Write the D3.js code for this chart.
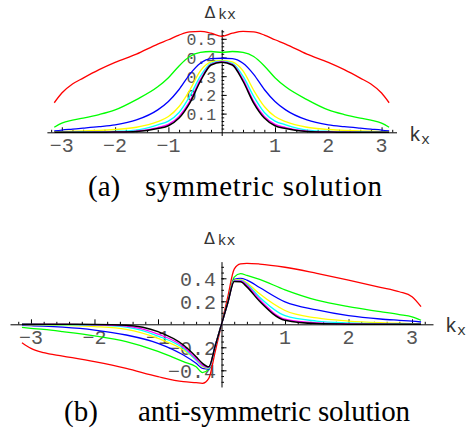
<!DOCTYPE html>
<html><head><meta charset="utf-8">
<script src="https://cdn.jsdelivr.net/npm/d3@7"></script>
<style>body{margin:0;background:#fff}svg{display:block}</style>
</head><body>
<svg id="c" width="468" height="442"></svg>
<script>
// ---------- data ----------
const kA = [-3.1416,-3.0,-2.8,-2.6,-2.3,-2.0,-1.6,-1.2,-1.0,-0.8,-0.6,-0.4,-0.2,0,0.2,0.4,0.6,0.8,1.0,1.2,1.6,2.0,2.3,2.6,2.8,3.0,3.1416];
const symRed     = [0.158,0.21,0.258,0.29,0.335,0.374,0.418,0.472,0.495,0.52,0.537,0.54,0.53,0.513,0.53,0.54,0.537,0.52,0.495,0.472,0.418,0.374,0.335,0.29,0.258,0.21,0.158];
const symGreen   = [0.027,0.049,0.065,0.076,0.095,0.12,0.175,0.243,0.292,0.355,0.405,0.427,0.432,0.427,0.432,0.427,0.405,0.355,0.292,0.243,0.175,0.12,0.095,0.076,0.065,0.049,0.027];
const symBlue    = [0.007,0.012,0.017,0.022,0.03,0.04,0.066,0.12,0.165,0.229,0.31,0.369,0.394,0.396,0.394,0.369,0.31,0.229,0.165,0.12,0.066,0.04,0.03,0.022,0.017,0.012,0.007];
const symYellow  = [0.003,0.004,0.006,0.008,0.01,0.015,0.027,0.057,0.084,0.138,0.225,0.328,0.376,0.385,0.376,0.328,0.225,0.138,0.084,0.057,0.027,0.015,0.01,0.008,0.006,0.004,0.003];
const symCyan    = [0.001,0.001,0.001,0.002,0.003,0.005,0.012,0.04,0.06,0.106,0.192,0.3,0.369,0.38,0.369,0.3,0.192,0.106,0.06,0.04,0.012,0.005,0.003,0.002,0.001,0.001,0.001];
const symMagenta = [0,0,0,0,0.001,0.002,0.006,0.025,0.042,0.085,0.165,0.283,0.364,0.378,0.364,0.283,0.165,0.085,0.042,0.025,0.006,0.002,0.001,0,0,0,0];
const symBlack   = [0,0,0,0,0,0.001,0.004,0.02,0.035,0.076,0.156,0.273,0.36,0.375,0.36,0.273,0.156,0.076,0.035,0.02,0.004,0.001,0,0,0,0,0];

const kB = [-3.1416,-3.0,-2.8,-2.5,-2.0,-1.5,-1.0,-0.6,-0.4,-0.3,-0.2,-0.1,0,0.1,0.2,0.3,0.4,0.6,1.0,1.5,2.0,2.5,2.8,3.0,3.1416];
const antiRed     = [-0.16,-0.209,-0.247,-0.276,-0.325,-0.383,-0.455,-0.499,-0.508,-0.513,-0.47,-0.24,0,0.24,0.48,0.525,0.53,0.524,0.496,0.443,0.385,0.322,0.283,0.24,0.153];
const antiGreen   = [-0.027,-0.035,-0.045,-0.064,-0.1,-0.15,-0.235,-0.325,-0.37,-0.42,-0.39,-0.19,0,0.2,0.41,0.44,0.425,0.39,0.3,0.21,0.153,0.11,0.085,0.065,0.035];
const antiBlue    = [-0.01,-0.012,-0.016,-0.025,-0.05,-0.093,-0.165,-0.267,-0.339,-0.383,-0.39,-0.19,0,0.19,0.39,0.4,0.385,0.32,0.195,0.125,0.075,0.046,0.035,0.028,0.02];
const antiYellow  = [-0.003,-0.004,-0.005,-0.01,-0.02,-0.044,-0.122,-0.223,-0.31,-0.368,-0.383,-0.19,0,0.19,0.383,0.39,0.36,0.265,0.12,0.055,0.028,0.014,0.009,0.006,0.005];
const antiCyan    = [-0.001,-0.001,-0.002,-0.004,-0.008,-0.025,-0.102,-0.209,-0.31,-0.36,-0.38,-0.19,0,0.19,0.38,0.383,0.35,0.235,0.075,0.028,0.012,0.005,0.003,0.002,0.002];
const antiMagenta = [0,0,0,-0.001,-0.004,-0.015,-0.085,-0.195,-0.3,-0.355,-0.375,-0.19,0,0.19,0.375,0.378,0.34,0.215,0.045,0.012,0.004,0.001,0,0,0];
const antiBlack   = [0,0,0,0,-0.001,-0.008,-0.064,-0.18,-0.282,-0.34,-0.37,-0.19,0,0.19,0.372,0.37,0.325,0.2,0.035,0.006,0.001,0,0,0,0];

const seriesColors = ["#ff0000","#00ff00","#0000ff","#ffff00","#00ffff","#ff00ff","#000000"];
const symSeries  = [symRed,symGreen,symBlue,symYellow,symCyan,symMagenta,symBlack];
const antiSeries = [antiRed,antiGreen,antiBlue,antiYellow,antiCyan,antiMagenta,antiBlack];

const xTicksA = [-3,-2,-1,1,2,3];
const yTicksA = [0.1,0.2,0.3,0.4,0.5];
const xTicksB = [-3,-2,-1,1,2,3];
const yTicksB = [-0.4,-0.2,0.2,0.4];
const captionA = ["(a)", "symmetric solution"];
const captionB = ["(b)", "anti-symmetric solution"];

// ---------- drawing ----------
const svg = d3.select("#c");
const mono = "'Liberation Mono', 'Courier New', monospace";
const serif = "'Liberation Serif', 'Times New Roman', serif";

function panel(o) {
  const g = svg.append("g");
  const x = d3.scaleLinear().domain(o.xDom).range(o.xRange);
  const y = d3.scaleLinear().domain(o.yDom).range(o.yRange);
  const y0 = y(0), x0 = x(0);

  // tick labels (drawn beneath curves)
  g.selectAll(".xl").data(o.xTicks).join("text")
    .attr("x", d => x(d)).attr("y", y0 + 14.5)
    .attr("text-anchor", "middle").attr("dominant-baseline", "central")
    .style("font-family", mono).style("font-size", "20px").attr("fill", "#555")
    .text(d => d < 0 ? "\u2212" + Math.abs(d) : String(d));
  g.selectAll(".yl").data(o.yTicks).join("text")
    .attr("x", x0 - 5.5).attr("y", d => y(d) + 2)
    .attr("text-anchor", "end").attr("dominant-baseline", "central")
    .style("font-family", mono).style("font-size", o.yFont + "px").attr("fill", "#555")
    .text(d => (d < 0 ? "\u2212" : "") + Math.abs(d).toFixed(1));

  // x axis (ticks pointing up)
  const xMinor = d3.range(Math.ceil(o.xDom[0] / 0.2), Math.floor(o.xDom[1] / 0.2) + 1).map(i => +(i * 0.2).toFixed(2)).filter(v => Math.abs(v - Math.round(v)) > 1e-6);
  g.append("g").attr("transform", `translate(0,${y0})`)
    .call(d3.axisBottom(x).tickValues(o.xTicks).tickSize(-5).tickSizeOuter(0).tickFormat(""))
    .call(a => a.selectAll("line,path").attr("stroke", "#000"));
  g.append("g").attr("transform", `translate(0,${y0})`)
    .call(d3.axisBottom(x).tickValues(xMinor).tickSize(-2.5).tickSizeOuter(0).tickFormat(""))
    .call(a => a.select("path").remove())
    .call(a => a.selectAll("line").attr("stroke", "#000"));

  // y axis (ticks pointing right)
  const yMinor = d3.range(Math.ceil(o.yDom[0] / o.yMinorStep), Math.floor(o.yDom[1] / o.yMinorStep) + 1).map(i => +(i * o.yMinorStep).toFixed(3)).filter(v => v !== 0);
  g.append("g").attr("transform", `translate(${x0},0)`)
    .call(d3.axisLeft(y).tickValues(o.yTicks).tickSize(-5).tickSizeOuter(0).tickFormat(""))
    .call(a => a.selectAll("line,path").attr("stroke", "#000"));
  g.append("g").attr("transform", `translate(${x0},0)`)
    .call(d3.axisLeft(y).tickValues(yMinor).tickSize(-2.5).tickSizeOuter(0).tickFormat(""))
    .call(a => a.select("path").remove())
    .call(a => a.selectAll("line").attr("stroke", "#000"));

  // curves
  const line = d3.line().x((d, i) => x(o.k[i])).y(d => y(d)).curve(d3.curveMonotoneX);
  g.selectAll(".curve").data(o.series).join("path")
    .attr("d", d => line(d)).attr("fill", "none")
    .attr("stroke", (d, i) => seriesColors[i])
    .attr("stroke-width", (d, i) => i === 6 ? 1.5 : 1.3);

  // axis titles
  g.append("text").attr("x", o.deltaPos[0]).attr("y", o.deltaPos[1])
    .attr("text-anchor", "middle").attr("dominant-baseline", "central")
    .style("font-family", "'DejaVu Sans', sans-serif").style("font-size", "16px").attr("fill", "#333")
    .text("\u0394");
  g.append("text").attr("x", o.deltaPos[0] + 8).attr("y", o.deltaPos[1] + 3)
    .attr("dominant-baseline", "central")
    .style("font-family", mono).style("font-size", "15px").attr("fill", "#333")
    .text("kx");
  const kt = g.append("text").attr("x", o.kPos[0]).attr("y", o.kPos[1])
    .attr("dominant-baseline", "central")
    .style("font-family", mono).style("font-size", "20px").attr("fill", "#333");
  kt.append("tspan").text("k");
  kt.append("tspan").attr("dy", 5).style("font-size", "15px").text("x");

  // caption
  g.append("text").attr("x", o.capPos[0]).attr("y", o.capPos[1])
    .style("font-family", serif).style("font-size", "29px").attr("fill", "#000")
    .text(o.caption[0]);
  g.append("text").attr("x", o.capPos[2]).attr("y", o.capPos[1])
    .attr("textLength", o.capPos[3]).attr("lengthAdjust", "spacing")
    .style("font-family", serif).style("font-size", "29px").attr("fill", "#000")
    .text(o.caption[1]);
}

panel({
  xDom: [-3.28, 3.28], xRange: [46.9, 396.5],
  yDom: [-0.017, 0.55], yRange: [132.3 + 0.017 * 187, 132.3 - 0.55 * 187],
  k: kA, series: symSeries, xTicks: xTicksA, yTicks: yTicksA, yMinorStep: 0.02, yFont: 16.5,
  deltaPos: [210, 12.5], kPos: [409, 135], capPos: [88, 196, 145, 237], caption: captionA
});
panel({
  xDom: [-3.33, 3.33], xRange: [10, 433],
  yDom: [-0.545, 0.545], yRange: [324.3 + 0.545 * 115, 324.3 - 0.545 * 115],
  k: kB, series: antiSeries, xTicks: xTicksB, yTicks: yTicksB, yMinorStep: 0.05, yFont: 20,
  deltaPos: [209.5, 238.5], kPos: [445, 326], capPos: [64, 421, 138, 272], caption: captionB
});
</script>
</body></html>
